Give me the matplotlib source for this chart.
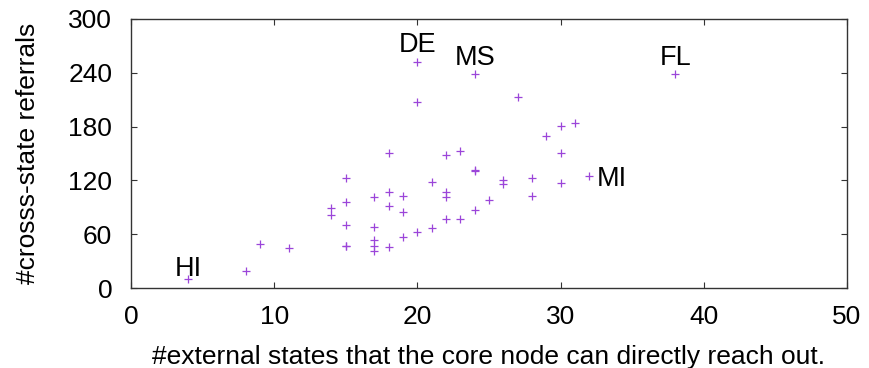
import matplotlib
matplotlib.use('Agg')
import matplotlib.pyplot as plt

# number of external states reachable from each core node
reach = [4, 8, 9, 11,
         14, 14,
         15, 15, 15, 15, 15,
         17, 17, 17, 17, 17,
         18, 18, 18, 18,
         19, 19, 19,
         20, 20, 20,
         21, 21,
         22, 22, 22, 22,
         23, 23,
         24, 24, 24, 24,
         25, 26, 26, 27, 28, 28, 29,
         30, 30, 30, 31, 32, 38]
# cross-state referrals for the same nodes
referrals = [10, 19, 49, 45,
             89, 81,
             123, 96, 70, 47, 47,
             101, 68, 53, 47, 41,
             151, 107, 92, 46,
             103, 85, 57,
             252, 207, 63,
             118, 67,
             148, 107, 101, 77,
             153, 77,
             239, 132, 130, 87,
             98, 120, 116, 213, 123, 103, 169,
             181, 151, 117, 184, 125, 239]

# named states and where their tags sit
names = ['DE', 'MS', 'FL', 'HI', 'MI']
name_x = [20, 24, 38, 4, 32]
name_y = [252, 239, 239, 10, 125]
name_off = [(0, 7), (0, 6), (0, 6.5), (0, 2), (5.3, -7.2)]
name_ha = ['center', 'center', 'center', 'center', 'left']

xticks = [0, 10, 20, 30, 40, 50]
yticks = [0, 60, 120, 180, 240, 300]

plt.rcParams['font.family'] = ['Liberation Sans', 'DejaVu Sans']
plt.rcParams['font.size'] = 19

fig = plt.figure(figsize=(8.7, 3.68), dpi=100)
ax = fig.add_axes([131/870, 1-288/368, 716/870, 269/368])

ax.plot(reach, referrals, linestyle='none', marker='+', markersize=5.5,
        markeredgewidth=0.9, color='#9b45d9')

for n, x, y, off, ha in zip(names, name_x, name_y, name_off, name_ha):
    ax.annotate(n, (x, y), xytext=off, textcoords='offset points',
                ha=ha, va='baseline', fontsize=19.5)

ax.set_xlim(0, 50)
ax.set_ylim(0, 300)
ax.set_xticks(xticks)
ax.set_yticks(yticks)
ax.tick_params(direction='in', length=4.5, width=0.8, top=True, right=True,
               color='#333333')
ax.tick_params(axis='x', pad=12.5)
ax.tick_params(axis='y', pad=13.5)
for s in ax.spines.values():
    s.set_linewidth(1.0)
    s.set_color('#333333')

ax.set_xlabel('#external states that the core node can directly reach out.',
              labelpad=11)
ax.set_ylabel('#crosss-state referrals', labelpad=20)

fig.savefig('out.png', dpi=100)
